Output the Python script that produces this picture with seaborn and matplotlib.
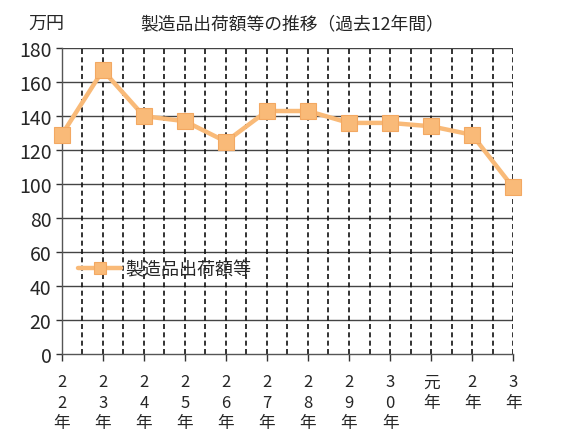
import numpy as np
import pandas as pd
import matplotlib
matplotlib.use("Agg")
import matplotlib.pyplot as plt
import seaborn as sns

# --- data ---
years = ["2\n2\n年", "2\n3\n年", "2\n4\n年", "2\n5\n年", "2\n6\n年", "2\n7\n年",
         "2\n8\n年", "2\n9\n年", "3\n0\n年", "元\n年", "2\n年", "3\n年"]
values = [129, 167, 140, 137, 125, 143, 143, 136, 136, 134, 129, 98]
series_name = "製造品出荷額等"
title = "製造品出荷額等の推移（過去12年間）"
unit = "万円"

LINE_COLOR = "#F9BA78"
EDGE_COLOR = "#F3A862"

sns.set_theme(style="white")
plt.rcParams['font.family'] = ['Noto Sans CJK JP', 'DejaVu Sans']

df = pd.DataFrame({"pos": np.arange(len(values)), "value": values})

fig = plt.figure(figsize=(5.67, 4.35), dpi=100)
ax = fig.add_axes([0.109, 0.184, 0.796, 0.703])

sns.lineplot(data=df, x="pos", y="value", ax=ax, color=LINE_COLOR, linewidth=3.2,
             marker="s", markersize=11, markerfacecolor=LINE_COLOR,
             markeredgecolor=EDGE_COLOR, markeredgewidth=0.8,
             label=series_name, zorder=5, clip_on=False)

ax.set_xlim(0, len(values) - 1)
ax.set_ylim(0, 180)
ax.set_yticks(np.arange(0, 181, 20))
ax.set_xticks(df["pos"])
ax.set_xticklabels(years, fontsize=12, linespacing=1.25)
ax.tick_params(axis="y", labelsize=14, length=4, width=1, color="#333333", direction="out", left=True)
ax.tick_params(axis="x", length=5, width=1, color="#333333", direction="out", bottom=True, pad=9)

# grid: solid horizontal, dashed vertical every half step
for y in np.arange(20, 181, 20):
    ax.axhline(y, color="#444444", linewidth=1.0, zorder=1)
for x in np.arange(0.5, len(values) - 1 + 0.01, 0.5):
    ax.axvline(x, color="#111111", linewidth=1.2, linestyle=(0, (3, 2)), zorder=1)

for side in ["top", "right"]:
    ax.spines[side].set_visible(False)
ax.spines["left"].set_color("#555555")
ax.spines["bottom"].set_color("#555555")
ax.spines["left"].set_linewidth(1.0)
ax.spines["bottom"].set_linewidth(1.0)

ax.set_xlabel("")
ax.set_ylabel("")

leg = ax.legend(loc="upper left", bbox_to_anchor=(0.02, 0.33), frameon=False,
                fontsize=13, handlelength=2.4, handletextpad=0.2, borderaxespad=0,
                markerscale=0.8)

fig.text(0.05, 0.945, unit, fontsize=13, ha="left", va="center")
fig.text(0.515, 0.945, title, fontsize=12.8, ha="center", va="center")

fig.savefig("out.png", dpi=100, facecolor="white")
